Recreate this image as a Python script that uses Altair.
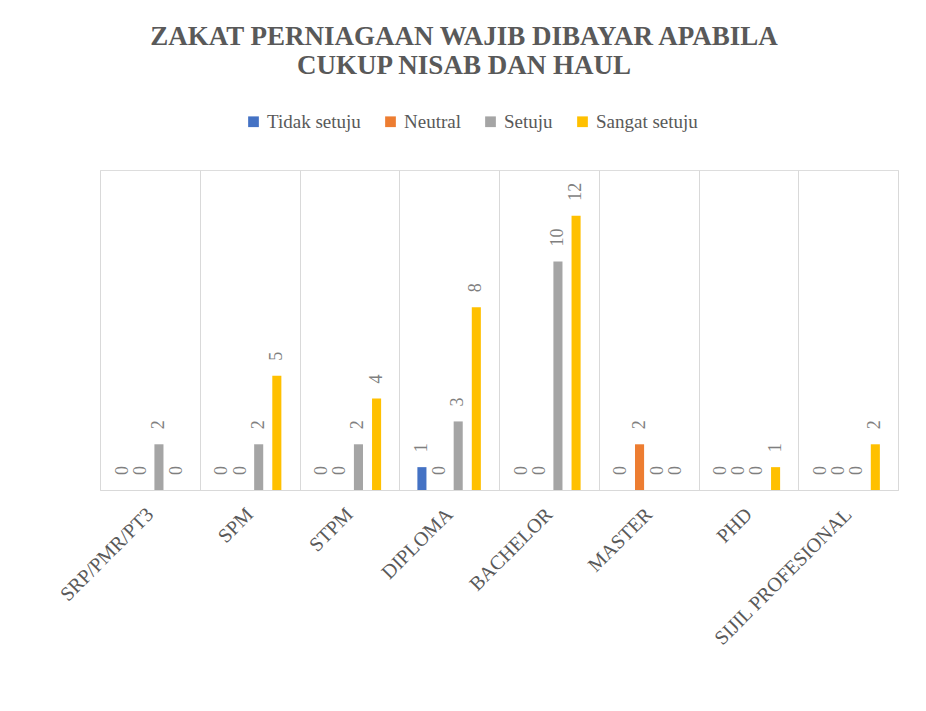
import altair as alt
import pandas as pd

categories = ["SRP/PMR/PT3", "SPM", "STPM", "DIPLOMA", "BACHELOR", "MASTER", "PHD", "SIJIL PROFESIONAL"]
series = ["Tidak setuju", "Neutral", "Setuju", "Sangat setuju"]
tidak_setuju = [0, 0, 0, 1, 0, 0, 0, 0]
neutral = [0, 0, 0, 0, 0, 2, 0, 0]
setuju = [2, 2, 2, 3, 10, 0, 0, 0]
sangat_setuju = [0, 5, 4, 8, 12, 0, 1, 2]
colors = ["#4472C4", "#ED7D31", "#A5A5A5", "#FFC000"]

rows = []
for s, vals in zip(series, [tidak_setuju, neutral, setuju, sangat_setuju]):
    for c, v in zip(categories, vals):
        rows.append({"Tahap": c, "Kategori": s, "Nilai": v})
df = pd.DataFrame(rows)

SERIF = "Liberation Serif"

x_enc = alt.X(
    "Tahap:N",
    sort=categories,
    scale=alt.Scale(paddingInner=0, paddingOuter=0),
    axis=alt.Axis(
        title=None,
        labelAngle=-45,
        labelAlign="right",
        labelBaseline="middle",
        labelFont=SERIF,
        labelFontSize=20,
        labelColor="#595959",
        labelPadding=21,
        labelLimit=400,
        grid=True,
        gridColor="#D9D9D9",
        gridWidth=1,
        tickBand="extent",
        ticks=False,
        domainColor="#D9D9D9",
        domainWidth=1,
    ),
)
y_enc = alt.Y("Nilai:Q", scale=alt.Scale(domain=[0, 14]), axis=None)
xo_enc = alt.XOffset(
    "Kategori:N",
    sort=series,
    scale=alt.Scale(domain=series, paddingInner=0.5, paddingOuter=1),
)

base = alt.Chart(df).encode(x=x_enc, y=y_enc, xOffset=xo_enc)

bars = base.mark_bar().encode(
    color=alt.Color(
        "Kategori:N",
        sort=series,
        scale=alt.Scale(domain=series, range=colors),
        legend=alt.Legend(
            title=None,
            orient="none",
            legendX=144,
            legendY=-58,
            direction="horizontal",
            symbolType="square",
            symbolSize=115,
            symbolStrokeWidth=0,
            labelFont=SERIF,
            labelFontSize=19,
            labelColor="#595959",
            labelOffset=4,
            columnPadding=20,
        ),
    )
)

labels = base.mark_text(
    angle=270,
    align="left",
    baseline="middle",
    dx=15,
    font=SERIF,
    fontSize=18,
    color="#7F7F7F",
).encode(text="Nilai:Q")

chart = (
    alt.layer(bars, labels)
    .properties(
        width=798,
        height=320,
        autosize=alt.AutoSizeParams(type="none"),
        padding={"left": 92, "top": 162, "right": 20, "bottom": 213},
        title=alt.TitleParams(
            ["ZAKAT PERNIAGAAN WAJIB DIBAYAR APABILA", "CUKUP NISAB DAN HAUL"],
            font=SERIF,
            fontSize=27,
            fontWeight="bold",
            color="#595959",
            anchor="middle",
            dx=-35,
            offset=32,
            lineHeight=29,
        ),
    )
    .configure_view(stroke="transparent", strokeWidth=0)
    .configure(background="white")
)

chart.save("out.html", embed_options={"renderer": "svg", "actions": False})
